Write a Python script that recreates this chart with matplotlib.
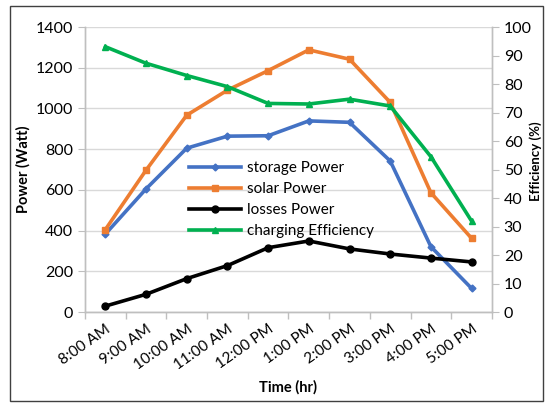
import matplotlib.pyplot as plt
import numpy as np
from matplotlib.patches import Rectangle

plt.rcParams['font.family'] = ['Lato', 'DejaVu Sans']

hours = ['8:00 AM', '9:00 AM', '10:00 AM', '11:00 AM', '12:00 PM',
         '1:00 PM', '2:00 PM', '3:00 PM', '4:00 PM', '5:00 PM']
storage_power = [383, 605, 805, 864, 866, 939, 932, 742, 321, 116]
solar_power = [405, 697, 967, 1090, 1186, 1288, 1242, 1030, 586, 362]
losses_power = [29, 87, 164, 228, 316, 349, 310, 285, 265, 246]
charging_eff = [93.1, 87.3, 83.0, 79.1, 73.2, 73.0, 74.7, 72.3, 54.5, 31.9]

fig = plt.figure(figsize=(5.46, 4.04), dpi=100)
ax = fig.add_axes([0.1557, 0.2277, 0.7453, 0.7053])
ax2 = ax.twinx()

x = np.arange(len(hours))
lw = 2.6
h1, = ax.plot(x, storage_power, color='#4472C4', lw=lw, marker='D', ms=3.5, label='storage Power')
h2, = ax.plot(x, solar_power, color='#ED7D31', lw=lw, marker='s', ms=5, label='solar Power')
h3, = ax.plot(x, losses_power, color='black', lw=lw, marker='o', ms=5, label='losses Power')
h4, = ax2.plot(x, charging_eff, color='#00B050', lw=lw, marker='^', ms=5, label='charging Efficiency')

ax.set_xlim(-0.5, len(hours) - 0.5)
ax.set_ylim(0, 1400)
ax.set_yticks(np.arange(0, 1401, 200))
ax2.set_ylim(0, 100)
ax2.set_yticks(np.arange(0, 101, 10))

# ticks at category boundaries, labels centred on points
ax.set_xticks(np.arange(-0.5, len(hours), 1.0))
ax.set_xticklabels([])
ax.set_xticks(x, minor=True)
ax.set_xticklabels(hours, minor=True, rotation=35, ha='right', rotation_mode='anchor')
ax.tick_params(axis='x', which='minor', length=0, pad=7, labelsize=11)
ax.tick_params(axis='x', which='major', length=5, color='#BFBFBF', width=1)
ax.tick_params(axis='y', length=5, color='#BFBFBF', labelsize=11.5)
ax2.tick_params(axis='y', length=5, color='#BFBFBF', labelsize=11.5)

ax.grid(axis='y', color='#D9D9D9', lw=1)
ax.set_axisbelow(True)
for a in (ax, ax2):
    a.spines['top'].set_visible(False)
    for s in ('left', 'right', 'bottom'):
        a.spines[s].set_color('#BFBFBF')
        a.spines[s].set_linewidth(1)

ax.set_ylabel('Power (Watt)', fontweight='bold', fontsize=10.5)
ax.set_xlabel('Time (hr)', fontweight='bold', fontsize=10.5, labelpad=6)
# right axis title placed by hand so it stays inside the frame
fig.text(536 / 546, 0.6, 'Efficiency (%)', rotation=90, ha='center', va='center',
         fontweight='bold', fontsize=9.5)

leg = ax2.legend(handles=[h1, h2, h3, h4], loc='upper left', bbox_to_anchor=(0.24, 0.55),
                 frameon=False, fontsize=11, handlelength=3.4, labelspacing=0.45,
                 handletextpad=0.4, borderaxespad=0)

fig.patches.append(Rectangle((10 / 546, 3 / 404), 533 / 546, 395 / 404, transform=fig.transFigure,
                             fill=False, edgecolor='#404040', lw=1))

fig.savefig('out.png', dpi=100)
